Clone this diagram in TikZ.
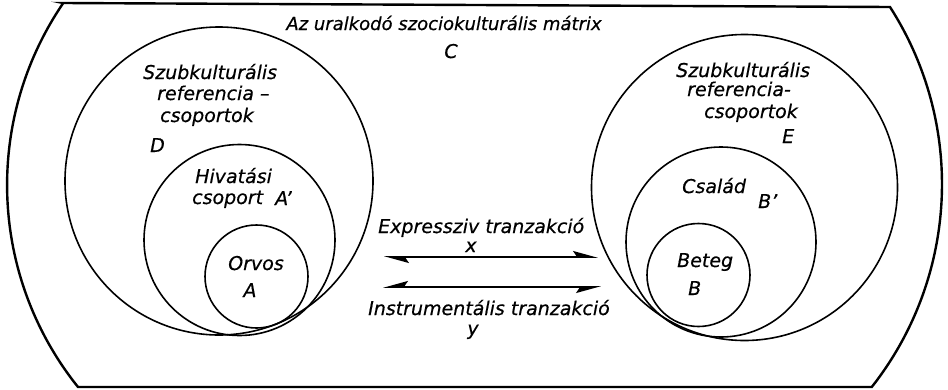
\documentclass[tikz,border=0pt]{standalone}
\usepackage{fontspec}
\setmainfont{DejaVu Sans}[ItalicFeatures={FakeBold=0.5}]
\usetikzlibrary{arrows.meta}
\begin{document}
\begin{tikzpicture}[x=1pt,y=-1pt,
  txt/.style={font=\itshape\fontsize{19}{21}\selectfont, inner sep=0pt, anchor=base west},
  ctxt/.style={txt, anchor=base},
  ring/.style={draw, circle, line width=1.6pt, inner sep=0pt},
  frame/.style={line width=2.4pt},
  harpA/.style={line width=1.6pt, {Stealth[left,length=22pt,width=12pt,inset=4pt]}-{Stealth[left,length=22pt,width=12pt,inset=4pt]}},
  harpB/.style={line width=1.6pt, {Stealth[right,length=22pt,width=12pt,inset=4pt]}-{Stealth[right,length=22pt,width=12pt,inset=4pt]}}]
\useasboundingbox (0,0) rectangle (948,389);
% outer frame
\draw[frame] (63,3) -- (890,7) arc[start angle=-32.7,end angle=38.2,radius=328]
  -- (78,387) arc[start angle=141.3,end angle=214.3,radius=323] -- cycle;
% circles
\node[ring, minimum size=308pt] (D) at (219,181) {};
\node[ring, minimum size=191pt] (Ap) at (239.5,240) {};
\node[ring, minimum size=103pt] (A) at (256.5,276.5) {};
\node[ring, minimum size=306pt] (E) at (744.5,187.5) {};
\node[ring, minimum size=190pt] (Bp) at (721,242) {};
\node[ring, minimum size=103pt] (B) at (698.5,275) {};
% texts
\node[ctxt, font=\itshape\fontsize{18}{20}\selectfont] (title) at (444,30) {Az uralkodó szociokulturális mátrix};
\node[ctxt] (C) at (451,58) {C};
\node[txt] (D1) at (143,79) {Szubkulturális};
\node[txt] (D2) at (157,100) {referencia –};
\node[txt] (D3) at (160,122) {csoportok};
\node[txt] (DL) at (150,152) {D};
\node[txt] (Ap1) at (195,183) {Hivatási};
\node[txt] (Ap2) at (192,204) {csoport};
\node[txt] (ApL) at (275,205) {A'};
\node[ctxt] (A1) at (256,270) {Orvos};
\node[ctxt] (AL) at (250,297) {A};
\node[txt] (E1) at (676,77) {Szubkulturális};
\node[txt] (E2) at (687,96) {referencia-};
\node[txt] (E3) at (704,118) {csoportok};
\node[txt] (EL) at (782,143) {E};
\node[txt] (Bp1) at (682,193) {Család};
\node[txt] (BpL) at (758,208) {B'};
\node[txt] (B1) at (677,267) {Beteg};
\node[txt] (BL) at (688,295) {B};
\node[txt] (X1) at (378,233) {Expressziv tranzakció};
\node[ctxt] (XL) at (471,252) {x};
\node[txt] (Y1) at (368,315) {Instrumentális tranzakció};
\node[ctxt] (YL) at (473,335) {y};
% arrows
\coordinate (xl) at (384,257);
\coordinate (xr) at (598,257);
\coordinate (yl) at (383,287);
\coordinate (yr) at (601,287);
\draw[harpA] (xl) -- (xr);
\draw[harpB] (yl) -- (yr);
\end{tikzpicture}
\end{document}
